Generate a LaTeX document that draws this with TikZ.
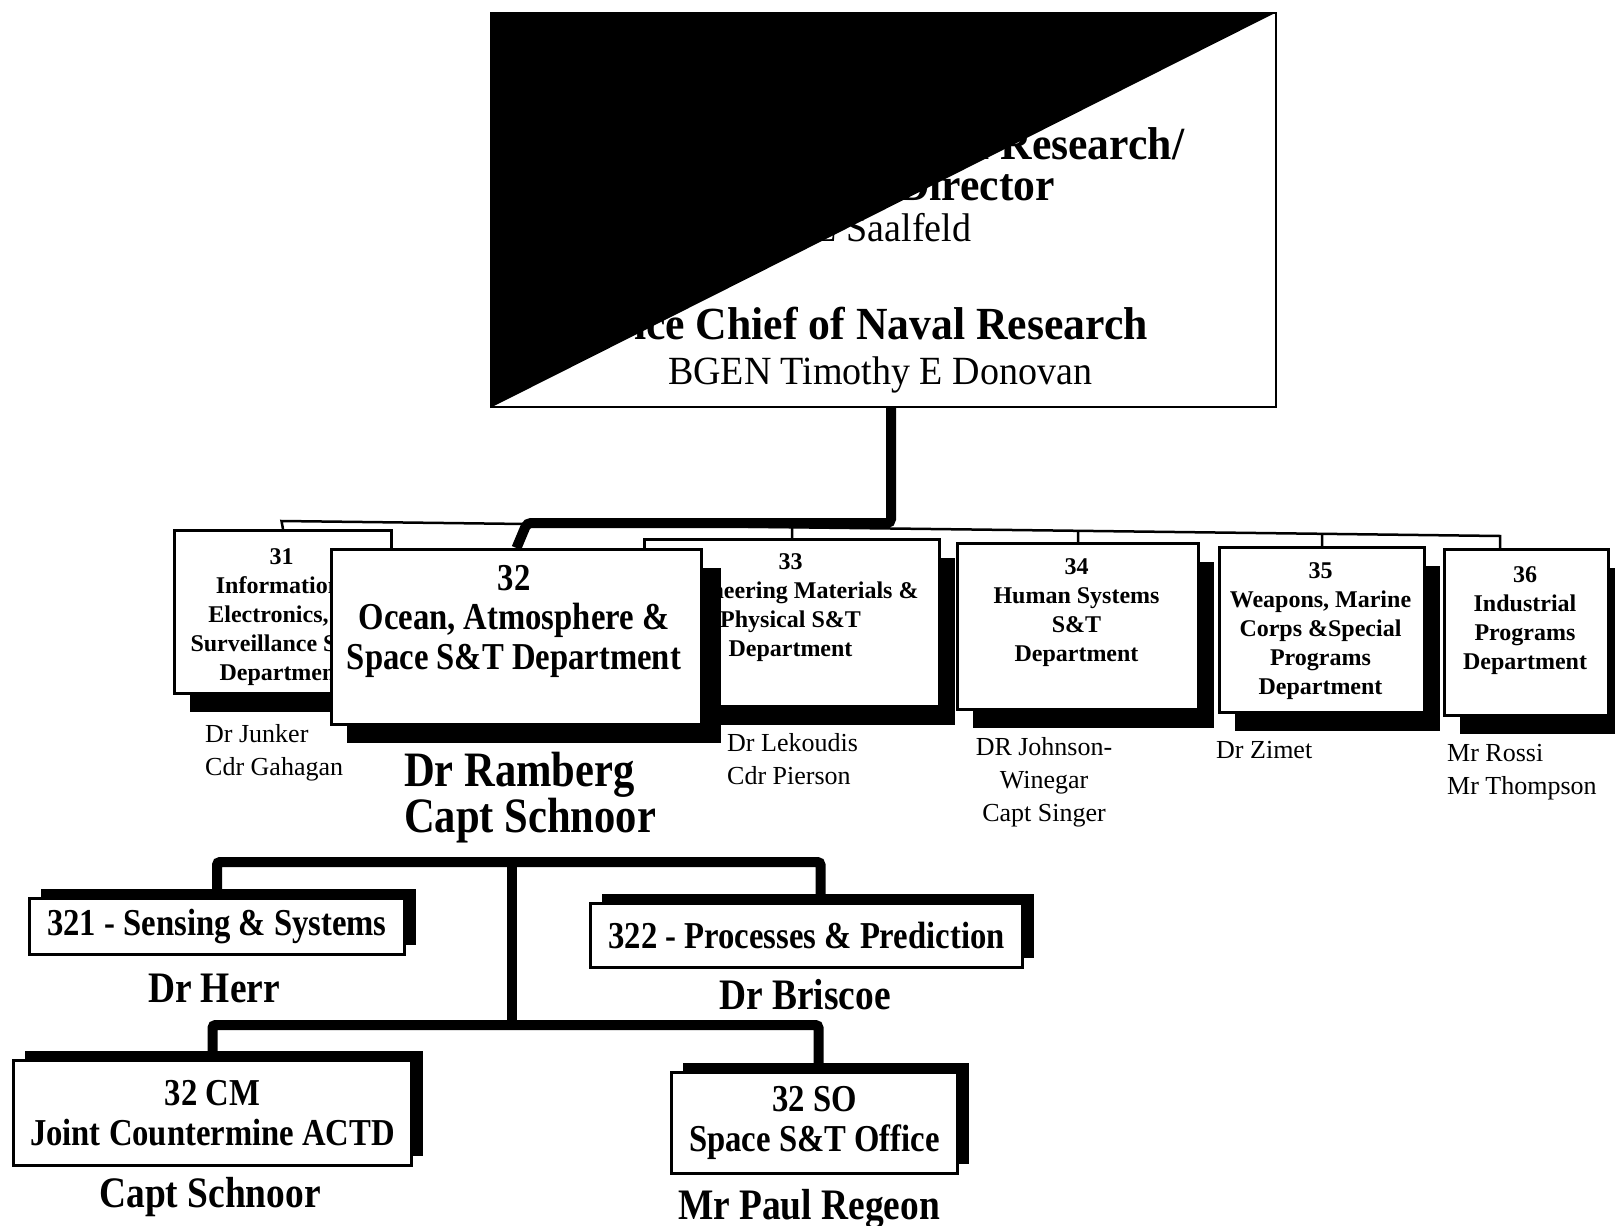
\documentclass[tikz,border=0pt]{standalone}
\usepackage{fontspec}
\setmainfont{Liberation Serif}
\newfontfamily\condfont[FakeStretch=0.86]{Liberation Serif}
\newfontfamily\headfont[FakeStretch=0.95]{Liberation Serif}
\usetikzlibrary{calc,shadows}

\begin{document}
\begin{tikzpicture}[x=1pt,y=-1pt,
  topbox/.style={draw,line width=2pt,fill=white,inner sep=0pt,anchor=north west,
    minimum width=785pt,minimum height=394pt},
  headbf/.style={inner sep=0pt,anchor=base east,
    font={\headfont\bfseries\fontsize{46}{41}\selectfont}},
  headrm/.style={inner sep=0pt,anchor=base east,font={\headfont\fontsize{40}{44}\selectfont}},
  dept/.style={draw,line width=3pt,fill=white,inner sep=0pt,anchor=north west,
    general shadow={fill=black,shadow xshift=15pt,shadow yshift=-18pt}},
  depttext/.style={inner sep=0pt,align=center,anchor=north,
    font={\bfseries\fontsize{24}{29}\selectfont}},
  names/.style={inner sep=0pt,align=left,anchor=north west,
    font={\fontsize{26}{33}\selectfont}},
  lowbox/.style={draw,line width=3pt,fill=white,inner sep=0pt,anchor=north west,align=center,
    font={\condfont\bfseries\fontsize{38}{40}\selectfont},
    general shadow={fill=black,shadow xshift=11pt,shadow yshift=10pt}},
  bignames/.style={inner sep=0pt,anchor=base,
    font={\condfont\bfseries\fontsize{43.5}{45}\selectfont}},
  bar/.style={line width=10pt,rounded corners=3pt},
  bus/.style={line width=2.5pt}]
\useasboundingbox (0,0) rectangle (1615,1226);

\node[topbox] (top) at (490,12) {};
\node[headbf,anchor=north west,align=left] (cnr) at (720,127.3) {Chief of Naval Research/\\
  \hspace*{-15pt}Executive Director\\
  \hspace*{-35pt}{\mdseries\fontsize{40}{41}\selectfont Dr Fred E Saalfeld}};
\node[headbf] (vcnr) at (1148,339) {Vice Chief of Naval Research};
\node[headrm,anchor=base] (tdo) at (880,384) {BGEN Timothy E Donovan};
\fill (top.north west) -- (top.north east) -- (top.south west) -- cycle;

\node[dept,minimum width=217pt,minimum height=163pt] (d31) at (173,529) {};
\node[depttext] (t31) at (281.5,548) {31\\Information,\\Electronics, \&\\Surveillance S\&T\\Department};
\node[dept,minimum width=295pt,minimum height=167pt] (d33) at (643,538) {};
\node[depttext] (t33) at (790.5,553) {33\\Engineering Materials \&\\Physical S\&T\\Department};
\node[dept,minimum width=370pt,minimum height=175pt,
  general shadow={fill=black,shadow xshift=19pt,shadow yshift=-18pt}] (d32) at (330,548) {};
\node[inner sep=0pt,align=center,anchor=north,
  font={\condfont\bfseries\fontsize{38}{39.5}\selectfont}] (t32) at (514,565) {32\\Ocean, Atmosphere \&\\Space S\&T Department};
\node[dept,minimum width=241pt,minimum height=166pt] (d34) at (956,542) {};
\node[depttext] (t34) at (1076.5,558) {34\\Human Systems\\S\&T\\Department};
\node[dept,minimum width=205pt,minimum height=165pt] (d35) at (1218,546) {};
\node[depttext] (t35) at (1320.5,562) {35\\Weapons, Marine\\Corps \&Special\\Programs\\Department};
\node[dept,minimum width=164pt,minimum height=166pt] (d36) at (1443,548) {};
\node[depttext] (t36) at (1525,566) {36\\Industrial\\Programs\\Department};

\node[names] (n31) at (205,724) {Dr Junker\\Cdr Gahagan};
\node[names,font={\condfont\bfseries\fontsize{49.5}{45}\selectfont}] (n32) at (404,752) {Dr Ramberg\\Capt Schnoor};
\node[names] (n33) at (727,733) {Dr Lekoudis\\Cdr Pierson};
\node[names,align=center,anchor=north] (n34) at (1044,737) {DR Johnson-\\Winegar\\Capt Singer};
\node[names] (n35) at (1216,741) {Dr Zimet};
\node[names] (n36) at (1447,744) {Mr Rossi\\Mr Thompson};

\coordinate (busL) at (281.5,521);
\coordinate (busR) at (1500,536);
\draw[bus] (d31.north) -- (busL) -- (busR) -- (busR |- d36.north);
\foreach \dep in {d33,d34,d35}
  \draw[bus] (\dep.north) -- ($(busL)!(\dep.north)!(busR)$);
\coordinate (bend) at (527,523);
\draw[bar,rounded corners=4pt] ([xshift=7.5pt]top.south) |- (bend) -- (d32.north);

\node[lowbox,minimum width=375pt,minimum height=56pt] (b321) at (28,897) {321 - Sensing \& Systems};
\node[lowbox,minimum width=432pt,minimum height=64pt] (b322) at (589,902) {322 - Processes \& Prediction};
\node[lowbox,minimum width=398pt,minimum height=105pt] (bcm) at (12,1059) {32 CM\\Joint Countermine ACTD};
\node[lowbox,minimum width=286pt,minimum height=101pt] (bso) at (670,1071) {32 SO\\Space S\&T Office};

\node[bignames] (nherr) at (214,1002) {Dr Herr};
\node[bignames] (nbris) at (805,1009) {Dr Briscoe};
\node[bignames] (nschn) at (210,1207) {Capt Schnoor};
\node[bignames] (nrege) at (809,1219) {Mr Paul Regeon};

\coordinate (hubA) at (512,862);
\coordinate (hubB) at (512,1025);
\draw[bar] (b321.north) |- (hubA) -| ([xshift=14pt]b322.north);
\draw[bar] (hubA) -- (hubB);
\draw[bar] (bcm.north) |- (hubB) -| ([xshift=4pt]bso.north);
\end{tikzpicture}
\end{document}
